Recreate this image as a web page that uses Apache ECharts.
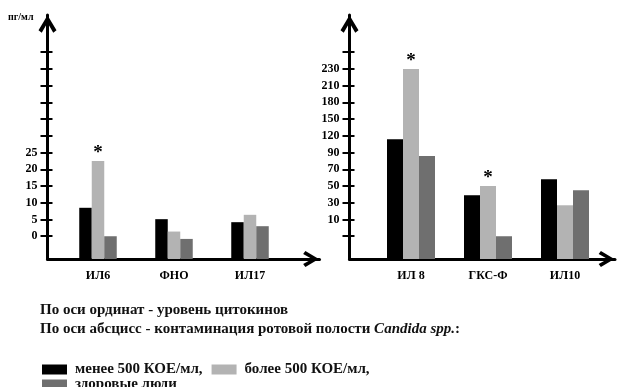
<!DOCTYPE html>
<html><head><meta charset="utf-8">
<script src="https://cdn.jsdelivr.net/npm/echarts@6/dist/echarts.min.js"></script>
<style>html,body{margin:0;padding:0;background:#fff}#c{width:620px;height:387px}</style>
</head><body><div id="c"></div>
<script>
// ---------- data ----------
const seriesNames = ['менее 500 КОЕ/мл,', 'более 500 КОЕ/мл,', 'здоровые люди'];

const leftCategories = ['ИЛ6', 'ФНО', 'ИЛ17'];
const leftTickValues = [0, 5, 10, 15, 20, 25, 30, 35, 40, 45, 50, 55];
const leftTickLabels = ['0', '5', '10', '15', '20', '25', '', '', '', '', '', ''];
const leftLess500 = [8.5, 5.1, 4.2];
const leftMore500 = [22.5, 1.4, 6.4];
const leftHealthy = [0, -0.8, 3.0];
const leftSignificant = [true, false, false];

const rightCategories = ['ИЛ 8', 'ГКС-Ф', 'ИЛ10'];
const rightTickValues = [0, 10, 30, 50, 70, 90, 120, 150, 180, 210, 230, 250];
const rightTickLabels = ['', '10', '30', '50', '70', '90', '120', '150', '180', '210', '230', ''];
const rightLess500 = [114, 39, 58];
const rightMore500 = [230, 50, 27];
const rightHealthy = [86, 0, 45];
const rightSignificant = [true, true, false];

const unitLabel = 'пг/мл';
const noteOrdinate = 'По оси ординат - уровень цитокинов';
const noteAbscissa = ['По оси абсцисс - контаминация ротовой полости ', 'Candida spp.', ':'];

// ---------- scale (tick-indexed, piecewise linear between labelled ticks) ----------
const BASE = 1.36;      // baseline sits this many tick steps below the first tick
const AXIS_MAX = 14.58; // axis top (arrow tip) in tick steps from baseline
function pos(v, ticks) {
  let i = 0;
  if (v <= ticks[0]) i = 0;
  else if (v >= ticks[ticks.length - 1]) i = ticks.length - 2;
  else { while (v > ticks[i + 1]) i++; }
  return BASE + i + (v - ticks[i]) / (ticks[i + 1] - ticks[i]);
}
const FONT = 'Liberation Serif';
const BLACK = '#000', LIGHT = '#b3b3b3', DARK = '#6f6f6f';
const ARROW = 'path://M0,8.4 L5,0 L10,8.4 L8.2,9.8 L5,4.2 L1.8,9.8 Z';

function yVisual(gridIndex, ticks, labels, inner) {
  const tv = ticks.map((_, i) => BASE + i);
  return {
    type: 'value', gridIndex, min: 0, max: AXIS_MAX, position: 'left',
    axisLine: { show: !inner, onZero: false, lineStyle: { color: '#000', width: 3 },
      symbol: ['none', ARROW], symbolSize: [18, 18], symbolOffset: [0, -9] },
    axisTick: { show: true, inside: inner, length: inner ? 5 : 7,
      lineStyle: { color: '#000', width: 2 }, customValues: tv },
    axisLabel: { show: !inner, customValues: tv, margin: 10,
      formatter: v => labels[Math.round(v - BASE)] || '',
      fontFamily: FONT, fontWeight: 'bold', fontSize: 12, color: '#000' },
    splitLine: { show: false }
  };
}
function xVisual(gridIndex) {
  return {
    type: 'value', gridIndex, min: 0, max: 1,
    axisLine: { show: true, onZero: false, lineStyle: { color: '#000', width: 3 },
      symbol: ['none', ARROW], symbolSize: [16, 17], symbolOffset: [0, -8.5] },
    axisTick: { show: false }, axisLabel: { show: false }, splitLine: { show: false }
  };
}
function xCat(gridIndex, cats) {
  return {
    type: 'category', gridIndex, data: cats,
    axisLine: { show: false }, axisTick: { show: false },
    axisLabel: { margin: 11, fontFamily: FONT, fontWeight: 'bold', fontSize: 12, color: '#000' }
  };
}
function yHidden(gridIndex) {
  return { type: 'value', gridIndex, min: 0, max: AXIS_MAX, show: false };
}
function bars(name, vals, ticks, color, xi, yi, width, sig) {
  return {
    type: 'bar', name, xAxisIndex: xi, yAxisIndex: yi, barWidth: width, barGap: '0%',
    itemStyle: { color }, animation: false,
    data: vals.map(v => pos(v, ticks)),
    label: sig ? { show: true, position: 'top', distance: -2,
      formatter: p => sig[p.dataIndex] ? '*' : '',
      fontFamily: FONT, fontWeight: 'bold', fontSize: 19, color: '#000' } : { show: false }
  };
}

const legendText = { fontFamily: FONT, fontWeight: 'bold', fontSize: 15, color: '#111', padding: [0, 0, 0, 3] };
const chart = echarts.init(document.getElementById('c'));
chart.setOption({
  animation: false,
  grid: [
    { left: 47.5, top: 15, width: 272, height: 244 },
    { left: 60, top: 15, width: 228, height: 244 },
    { left: 349.5, top: 15, width: 265.5, height: 244 },
    { left: 372.5, top: 15, width: 231, height: 244 }
  ],
  xAxis: [xVisual(0), xCat(1, leftCategories), xVisual(2), xCat(3, rightCategories)],
  yAxis: [
    yVisual(0, leftTickValues, leftTickLabels, false),
    yVisual(0, leftTickValues, leftTickLabels, true),
    yHidden(1),
    yVisual(2, rightTickValues, rightTickLabels, false),
    yVisual(2, rightTickValues, rightTickLabels, true),
    yHidden(3)
  ],
  legend: [
    { data: seriesNames.slice(0, 2), left: 42, top: 362, padding: 0,
      itemWidth: 25, itemHeight: 10, itemGap: 9, icon: 'rect', selectedMode: false, textStyle: legendText },
    { data: seriesNames.slice(2), left: 42, top: 377, padding: 0,
      itemWidth: 25, itemHeight: 10, itemGap: 9, icon: 'rect', selectedMode: false, textStyle: legendText }
  ],
  graphic: [
    { type: 'text', left: 8, top: 12, style: { text: unitLabel, font: 'bold 10px "Liberation Serif"', fill: '#000' } },
    { type: 'text', left: 40, top: 303, style: { text: noteOrdinate, font: 'bold 15px "Liberation Serif"', fill: '#111' } },
    { type: 'text', left: 40, top: 322, style: {
      text: noteAbscissa[0] + '{i|' + noteAbscissa[1] + '}' + noteAbscissa[2],
      font: 'bold 15px "Liberation Serif"', fill: '#111',
      rich: { i: { fontStyle: 'italic', fontWeight: 'bold', fontSize: 15, fontFamily: FONT, fill: '#111' } } } }
  ],
  series: [
    bars(seriesNames[0], leftLess500, leftTickValues, BLACK, 1, 2, 12.5),
    bars(seriesNames[1], leftMore500, leftTickValues, LIGHT, 1, 2, 12.5, leftSignificant),
    bars(seriesNames[2], leftHealthy, leftTickValues, DARK, 1, 2, 12.5),
    bars(seriesNames[0], rightLess500, rightTickValues, BLACK, 3, 5, 16),
    bars(seriesNames[1], rightMore500, rightTickValues, LIGHT, 3, 5, 16, rightSignificant),
    bars(seriesNames[2], rightHealthy, rightTickValues, DARK, 3, 5, 16)
  ]
});
</script></body></html>
